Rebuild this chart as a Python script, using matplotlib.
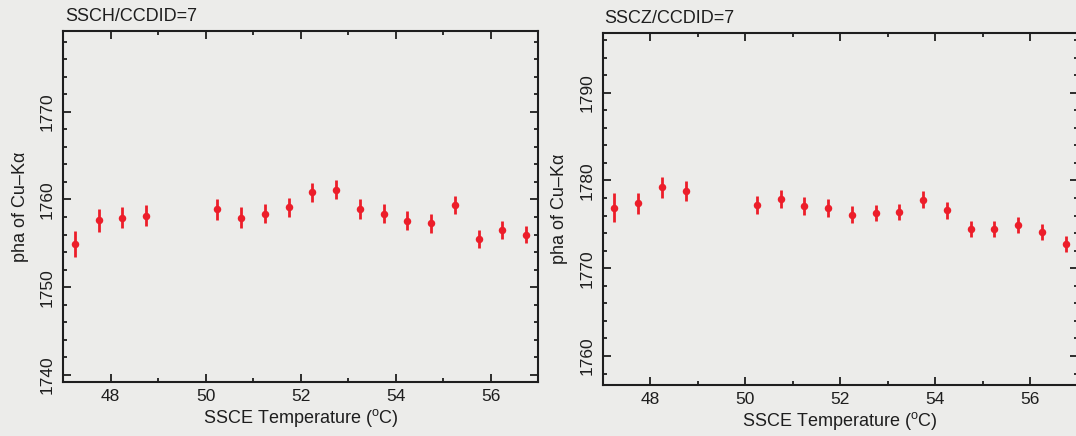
"""Cu-K alpha pulse height vs. SSCE temperature for CCDID=7 (SSCH and SSCZ)."""

from __future__ import annotations

import matplotlib

matplotlib.use("Agg")
import matplotlib.pyplot as plt  # noqa: E402
from matplotlib.ticker import MultipleLocator  # noqa: E402

# SSCE temperature bins (deg C); no data at 49.25 / 49.75
temp = [47.25, 47.75, 48.25, 48.75,
        50.25, 50.75, 51.25, 51.75, 52.25, 52.75, 53.25, 53.75,
        54.25, 54.75, 55.25, 55.75, 56.25, 56.75]

ssch_pha = [1754.9, 1757.65, 1757.9, 1758.15,
            1758.9, 1757.9, 1758.4, 1759.1, 1760.8, 1761.1, 1758.9, 1758.4,
            1757.6, 1757.3, 1759.35, 1755.5, 1756.5, 1756.0]
ssch_err = [1.5, 1.3, 1.2, 1.2,
            1.2, 1.2, 1.1, 1.1, 1.1, 1.1, 1.1, 1.1,
            1.1, 1.1, 1.0, 1.0, 1.0, 1.0]

sscz_pha = [1776.9, 1777.4, 1779.2, 1778.8,
            1777.2, 1777.9, 1777.1, 1776.85, 1776.1, 1776.3, 1776.4, 1777.8,
            1776.6, 1774.5, 1774.45, 1774.9, 1774.1, 1772.75]
sscz_err = [1.65, 1.2, 1.15, 1.1,
            1.0, 1.0, 1.0, 1.0, 0.95, 0.95, 0.95, 0.95,
            0.95, 0.9, 0.9, 0.9, 0.9, 0.9]

PAPER = "#ececea"
INK = "#1e1e1e"
RED = "#ec1e2a"

plt.rcParams["font.family"] = ["Liberation Sans", "DejaVu Sans"]
plt.rcParams["mathtext.fontset"] = "custom"
plt.rcParams["mathtext.rm"] = "Liberation Sans"


def panel(ax, pha, err, ylim, title):
    ax.set_facecolor(PAPER)
    ax.errorbar(temp, pha, yerr=err, fmt="o", color=RED, ms=5.4,
                elinewidth=2.0, capsize=0, mew=0)
    ax.set_xlim(47, 57)
    ax.set_ylim(*ylim)

    ax.xaxis.set_major_locator(MultipleLocator(2))
    ax.xaxis.set_minor_locator(MultipleLocator(1))
    ax.yaxis.set_major_locator(MultipleLocator(10))
    ax.yaxis.set_minor_locator(MultipleLocator(2))
    ax.tick_params(which="both", direction="in", top=True, right=True,
                   color=INK, width=1.3, labelsize=12.5, labelcolor=INK)
    ax.tick_params(which="major", length=5.8)
    ax.tick_params(which="minor", length=3.0)
    ax.tick_params(axis="x", pad=5)
    ax.tick_params(axis="y", pad=6)
    for lab in ax.get_yticklabels():
        lab.set_rotation(90)
        lab.set_va("center")
    for sp in ax.spines.values():
        sp.set_linewidth(1.5)
        sp.set_color(INK)

    ax.set_xlabel(r"SSCE Temperature ($^{\mathrm{o}}$C)", fontsize=13,
                  color=INK, labelpad=2.5)
    ax.set_ylabel("pha of Cu–Kα", fontsize=13, color=INK, labelpad=8)
    ax.annotate(title, xy=(0, 1), xycoords="axes fraction",
                xytext=(1.5, 7), textcoords="offset points",
                ha="left", va="baseline", fontsize=13, color=INK)


def main() -> None:
    fig = plt.figure(figsize=(10.76, 4.36), dpi=100, facecolor=PAPER)
    W, H = 1076, 436
    ax1 = fig.add_axes([63 / W, (H - 382) / H, 475 / W, 351 / H])
    ax2 = fig.add_axes([602.5 / W, (H - 385) / H, 475 / W, 352 / H])

    panel(ax1, ssch_pha, ssch_err, (1739.2, 1779.2), "SSCH/CCDID=7")
    panel(ax2, sscz_pha, sscz_err, (1756.7, 1796.8), "SSCZ/CCDID=7")

    fig.savefig("out.png", dpi=100, facecolor=PAPER)
    plt.close(fig)


if __name__ == "__main__":
    main()
